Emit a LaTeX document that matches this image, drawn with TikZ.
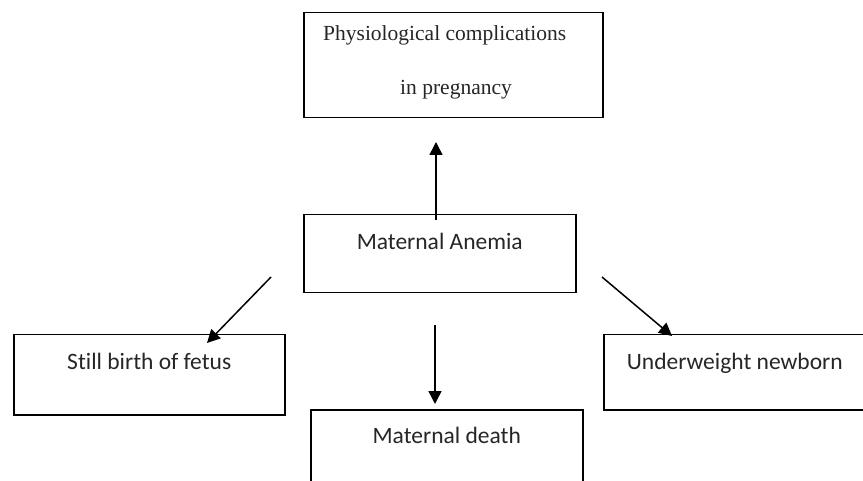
\documentclass[tikz,border=0pt]{standalone}
\usepackage{fontspec}
\setmainfont[Ligatures=NoCommon]{Carlito}
\newfontfamily\seriffont{Liberation Serif}
\usetikzlibrary{arrows.meta}
\begin{document}
\begin{tikzpicture}[x=1pt,y=-1pt,
  boxnode/.style={draw=black, line width=1.5pt, rectangle, inner sep=0pt, anchor=north west,
    font=\fontsize{23.5}{28}\selectfont, text=black!85},
  serifline/.style={inner sep=0pt, anchor=base west, font=\seriffont\fontsize{21.5}{26}\selectfont, text=black!85},
  conn/.style={line width=1.5pt, -{Triangle[length=13pt,width=13pt]}}]
\useasboundingbox (0,0) rectangle (863,481);
\clip (0,0) rectangle (863,481);
\fill[white] (0,0) rectangle (863,481);
% boxes
\node[boxnode, minimum width=299pt, minimum height=105pt] (top) at (303,12) {};
\node[serifline] (topa) at (323,41) {Physiological complications};
\node[serifline] (topb) at (400,95) {in pregnancy};
\node[boxnode, minimum width=272pt, minimum height=78pt, text height=35pt, text depth=43pt] (mid) at (303,214) {Maternal Anemia};
\node[boxnode, minimum width=271pt, minimum height=80pt, text height=35pt, text depth=45pt] (still) at (13,334) {Still birth of fetus};
\node[boxnode, minimum width=262pt, minimum height=75pt, text height=35pt, text depth=40pt] (under) at (603,334) {Underweight newborn};
\node[boxnode, minimum width=272pt, minimum height=110pt, text height=34pt, text depth=76pt] (death) at (310,409) {Maternal death};
% connector ends
\coordinate (upS) at (436,220);
\coordinate (upE) at (436,142);
\coordinate (dnS) at (435,325);
\coordinate (dnE) at (435,404);
\coordinate (lS) at (271,277);
\coordinate (lE) at (207,343);
\coordinate (rS) at (602,277);
\coordinate (rE) at (672,336);
\draw[conn] (upS) -- (upE);
\draw[conn] (dnS) -- (dnE);
\draw[conn] (lS) -- (lE);
\draw[conn] (rS) -- (rE);
\end{tikzpicture}
\end{document}
